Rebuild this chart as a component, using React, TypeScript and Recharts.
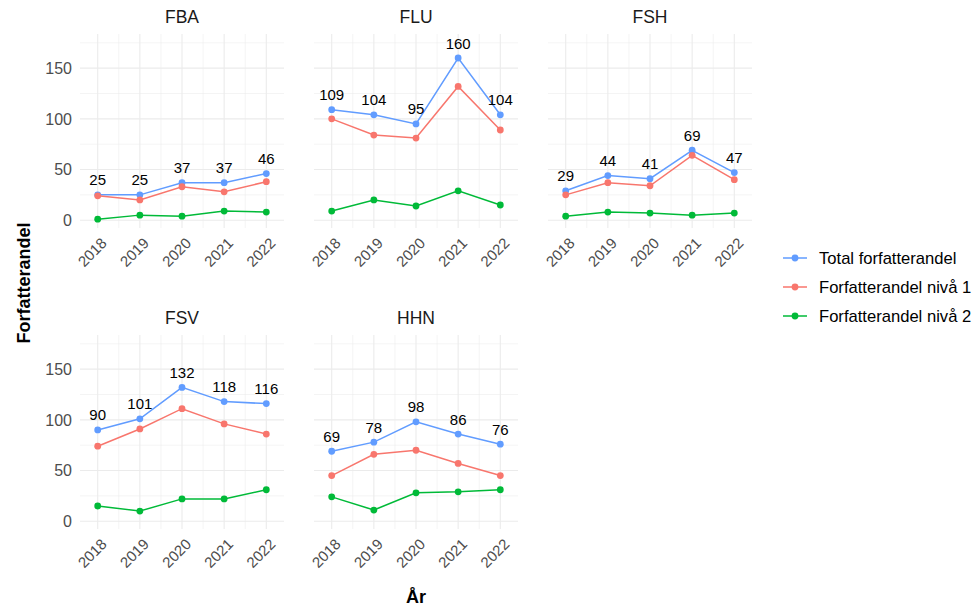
import React from 'react';
import { LineChart, Line, XAxis, YAxis, ReferenceLine, LabelList } from 'recharts';

// ---- data ----
const years = [2018, 2019, 2020, 2021, 2022];
const facetNames = ['FBA', 'FLU', 'FSH', 'FSV', 'HHN'];
const seriesNames = ['Total forfatterandel', 'Forfatterandel nivå 1', 'Forfatterandel nivå 2'];

const fbaTotal = [25, 25, 37, 37, 46];
const fbaLevel1 = [24, 20, 33, 28, 38];
const fbaLevel2 = [1, 5, 4, 9, 8];

const fluTotal = [109, 104, 95, 160, 104];
const fluLevel1 = [100, 84, 81, 132, 89];
const fluLevel2 = [9, 20, 14, 29, 15];

const fshTotal = [29, 44, 41, 69, 47];
const fshLevel1 = [25, 37, 34, 64, 40];
const fshLevel2 = [4, 8, 7, 5, 7];

const fsvTotal = [90, 101, 132, 118, 116];
const fsvLevel1 = [74, 91, 111, 96, 86];
const fsvLevel2 = [15, 10, 22, 22, 31];

const hhnTotal = [69, 78, 98, 86, 76];
const hhnLevel1 = [45, 66, 70, 57, 45];
const hhnLevel2 = [24, 11, 28, 29, 31];

const yMajor = [0, 50, 100, 150];
const yMinor = [25, 75, 125, 175];
const xMinor = [2018.5, 2019.5, 2020.5, 2021.5];
const labelNudge = 15;

const facetSeries: Record<string, number[][]> = {
  FBA: [fbaTotal, fbaLevel1, fbaLevel2],
  FLU: [fluTotal, fluLevel1, fluLevel2],
  FSH: [fshTotal, fshLevel1, fshLevel2],
  FSV: [fsvTotal, fsvLevel1, fsvLevel2],
  HHN: [hhnTotal, hhnLevel1, hhnLevel2],
};

// ---- style / layout ----
const COLORS = ['#619CFF', '#F8766D', '#00BA38'];
const FONT = '"Liberation Sans", Arial, Helvetica, sans-serif';
const GRID = '#EBEBEB';
const PANEL_W = 204;
const PANEL_H = 194;
const COL_LEFT = [80, 314, 548];
const ROW_TOP = [34.4, 335];
const Y_AXIS_W = 50;
const TOP_PAD = 6;
const X_AXIS_H = 50;
const X_DOMAIN: [number, number] = [2017.58, 2022.42];
const Y_DOMAIN: [number, number] = [-7.7, 183.7];

const buildRows = (name: string) =>
  years.map((yr, i) => ({
    year: yr,
    total: facetSeries[name][0][i],
    l1: facetSeries[name][1][i],
    l2: facetSeries[name][2][i],
  }));

const XTick = (props: any) => {
  const { x, y, payload } = props;
  return (
    <text
      x={x}
      y={y}
      transform={`rotate(-45, ${x}, ${y})`}
      textAnchor="end"
      dy="0.95em"
      fontSize={15}
      fill="#4D4D4D"
      fontFamily={FONT}
    >
      {payload.value}
    </text>
  );
};

const TopLabel = (props: any) => {
  const { x, y, value } = props;
  return (
    <text
      x={x}
      y={y - labelNudge}
      textAnchor="middle"
      dominantBaseline="central"
      fontSize={15}
      fill="#000"
      fontFamily={FONT}
    >
      {value}
    </text>
  );
};

const Panel = ({ name, idx }: { name: string; idx: number }) => {
  const col = idx % 3;
  const row = Math.floor(idx / 3);
  const showY = col === 0;
  const data = buildRows(name);
  const keys = ['total', 'l1', 'l2'];
  return (
    <div
      style={{
        position: 'absolute',
        left: COL_LEFT[col] - Y_AXIS_W,
        top: ROW_TOP[row] - TOP_PAD,
      }}
    >
      <LineChart
        width={Y_AXIS_W + PANEL_W + 4}
        height={TOP_PAD + PANEL_H + X_AXIS_H}
        data={data}
        margin={{ top: TOP_PAD, right: 4, bottom: 0, left: 0 }}
      >
        <XAxis
          dataKey="year"
          type="number"
          domain={X_DOMAIN}
          ticks={years}
          allowDataOverflow
          axisLine={false}
          tickLine={false}
          tickSize={0}
          tickMargin={6}
          height={X_AXIS_H}
          tick={<XTick />}
          interval={0}
        />
        <YAxis
          type="number"
          domain={Y_DOMAIN}
          ticks={yMajor}
          allowDataOverflow
          axisLine={false}
          tickLine={false}
          tickSize={0}
          tickMargin={8}
          width={Y_AXIS_W}
          tick={showY ? { fill: '#4D4D4D', fontSize: 16, fontFamily: FONT } : false}
          interval={0}
        />
        {yMinor.map((v) => (
          <ReferenceLine key={'ym' + v} y={v} stroke={GRID} strokeWidth={0.55} />
        ))}
        {xMinor.map((v) => (
          <ReferenceLine key={'xm' + v} x={v} stroke={GRID} strokeWidth={0.55} />
        ))}
        {yMajor.map((v) => (
          <ReferenceLine key={'yM' + v} y={v} stroke={GRID} strokeWidth={1.1} />
        ))}
        {years.map((v) => (
          <ReferenceLine key={'xM' + v} x={v} stroke={GRID} strokeWidth={1.1} />
        ))}
        {keys.map((k, i) => (
          <Line
            key={k}
            type="linear"
            dataKey={k}
            name={seriesNames[i]}
            stroke={COLORS[i]}
            strokeWidth={1.5}
            dot={{ r: 3.4, fill: COLORS[i], stroke: 'none' }}
            activeDot={false}
            isAnimationActive={false}
          />
        ))}
        <Line
          type="linear"
          dataKey="total"
          stroke="none"
          dot={false}
          activeDot={false}
          legendType="none"
          isAnimationActive={false}
        >
          <LabelList dataKey="total" content={<TopLabel />} />
        </Line>
      </LineChart>
    </div>
  );
};

export default function App() {
  const panelCenter = (col: number) => COL_LEFT[col] + PANEL_W / 2;
  return (
    <div
      style={{
        position: 'absolute',
        left: 0,
        top: 0,
        width: 978,
        height: 608,
        background: '#fff',
        fontFamily: FONT,
        overflow: 'hidden',
      }}
    >
      {facetNames.map((n, i) => (
        <Panel key={n} name={n} idx={i} />
      ))}
      <svg
        width={978}
        height={608}
        style={{ position: 'absolute', left: 0, top: 0, pointerEvents: 'none' }}
      >
        {facetNames.map((n, i) => (
          <text
            key={n}
            x={panelCenter(i % 3)}
            y={ROW_TOP[Math.floor(i / 3)] - 17}
            textAnchor="middle"
            dominantBaseline="central"
            fontSize={17.5}
            fill="#1A1A1A"
            fontFamily={FONT}
          >
            {n}
          </text>
        ))}
        <text
          x={(COL_LEFT[0] + COL_LEFT[2] + PANEL_W) / 2}
          y={597}
          textAnchor="middle"
          dominantBaseline="central"
          fontSize={18}
          fontWeight="bold"
          fill="#000"
          fontFamily={FONT}
        >
          År
        </text>
        <text
          x={30}
          y={283}
          transform="rotate(-90, 30, 283)"
          textAnchor="middle"
          fontSize={18}
          fontWeight="bold"
          fill="#000"
          fontFamily={FONT}
        >
          Forfatterandel
        </text>
        {seriesNames.map((s, i) => {
          const y = 258 + i * 29;
          return (
            <g key={s}>
              <line x1={783} x2={807} y1={y} y2={y} stroke={COLORS[i]} strokeWidth={1.5} />
              <circle cx={795} cy={y} r={3.4} fill={COLORS[i]} />
              <text
                x={819}
                y={y}
                dominantBaseline="central"
                fontSize={16.6}
                fill="#000"
                fontFamily={FONT}
              >
                {s}
              </text>
            </g>
          );
        })}
      </svg>
    </div>
  );
}
